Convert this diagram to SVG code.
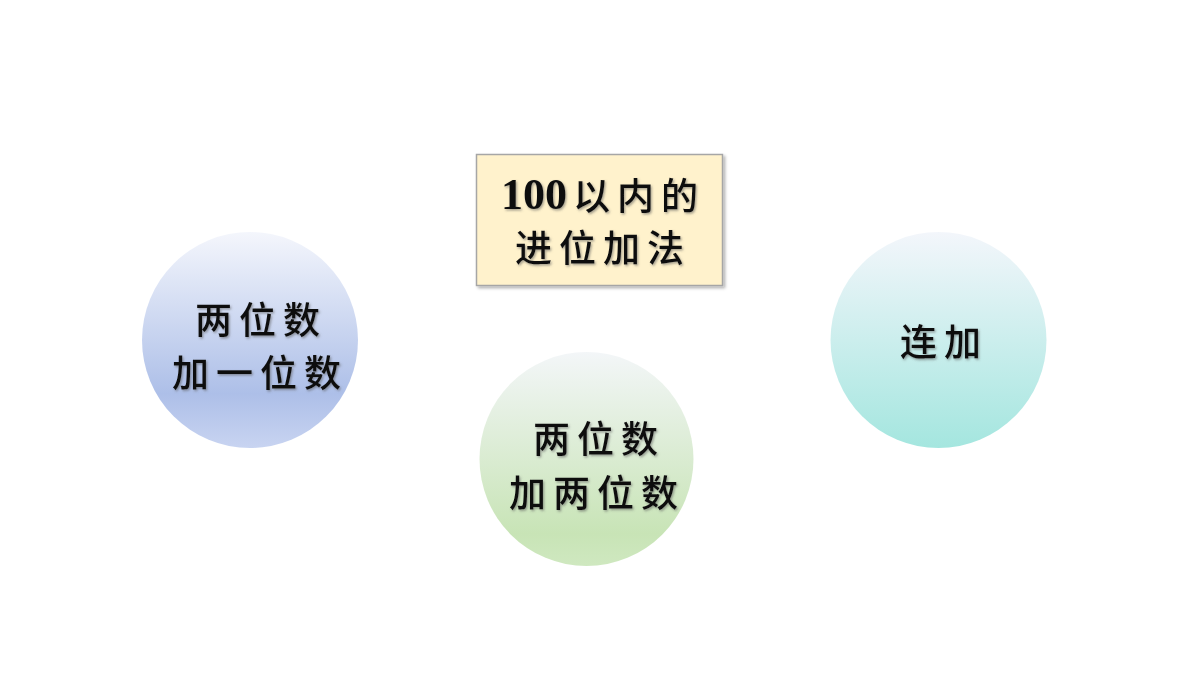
<svg xmlns="http://www.w3.org/2000/svg" width="1200" height="675" viewBox="0 0 1200 675">
  <style>
    .t { font-family: "Noto Sans CJK SC", "Noto Sans", sans-serif; font-size: 37px; font-weight: 500; fill: #111; text-anchor: middle; dominant-baseline: central; letter-spacing: 7px; filter: url(#ts); }
    .d { font-family: "Liberation Serif", serif; font-weight: bold; font-size: 44px; }
  </style>
  <defs>
    <filter id="ts" x="-10%" y="-20%" width="130%" height="150%">
      <feDropShadow dx="1.2" dy="1.5" stdDeviation="0.8" flood-color="#555" flood-opacity="0.55"/>
    </filter>
    <filter id="bs" x="-5%" y="-5%" width="115%" height="120%">
      <feDropShadow dx="2" dy="2" stdDeviation="1.5" flood-color="#000" flood-opacity="0.3"/>
    </filter>
    <linearGradient id="gBlue" x1="0" y1="0" x2="0" y2="1">
      <stop offset="0" stop-color="#f4f6fc"/>
      <stop offset="0.75" stop-color="#adbfe8"/>
      <stop offset="1" stop-color="#c8d4f1"/>
    </linearGradient>
    <linearGradient id="gGreen" x1="0" y1="0" x2="0" y2="1">
      <stop offset="0" stop-color="#f3f6f8"/>
      <stop offset="0.85" stop-color="#c8e4b6"/>
      <stop offset="1" stop-color="#cfe8c0"/>
    </linearGradient>
    <linearGradient id="gTeal" x1="0" y1="0" x2="0" y2="1">
      <stop offset="0" stop-color="#f3f6fb"/>
      <stop offset="1" stop-color="#a4e6df"/>
    </linearGradient>
  </defs>
  <rect width="1200" height="675" fill="#ffffff"/>
  <g id="connectors"></g>
  <g id="title">
    <rect x="476.5" y="154.5" width="246" height="131" fill="#fff2cc" stroke="#a6a6a6" stroke-width="1.5" filter="url(#bs)"/>
    <text class="t" x="603" y="194" font-size="38"><tspan class="d" letter-spacing="0">100</tspan><tspan dx="6">以内的</tspan></text>
    <text class="t" x="603" y="246" font-size="38">进位加法</text>
  </g>
  <g id="node-left">
    <circle cx="250" cy="340" r="108" fill="url(#gBlue)"/>
    <text class="t" x="261" y="318">两位数</text>
    <text class="t" x="260" y="371">加一位数</text>
  </g>
  <g id="node-middle">
    <circle cx="586.5" cy="459" r="107" fill="url(#gGreen)"/>
    <text class="t" x="599" y="437">两位数</text>
    <text class="t" x="597" y="491">加两位数</text>
  </g>
  <g id="node-right">
    <circle cx="938.5" cy="340" r="108" fill="url(#gTeal)"/>
    <text class="t" x="944" y="340">连加</text>
  </g>
</svg>
